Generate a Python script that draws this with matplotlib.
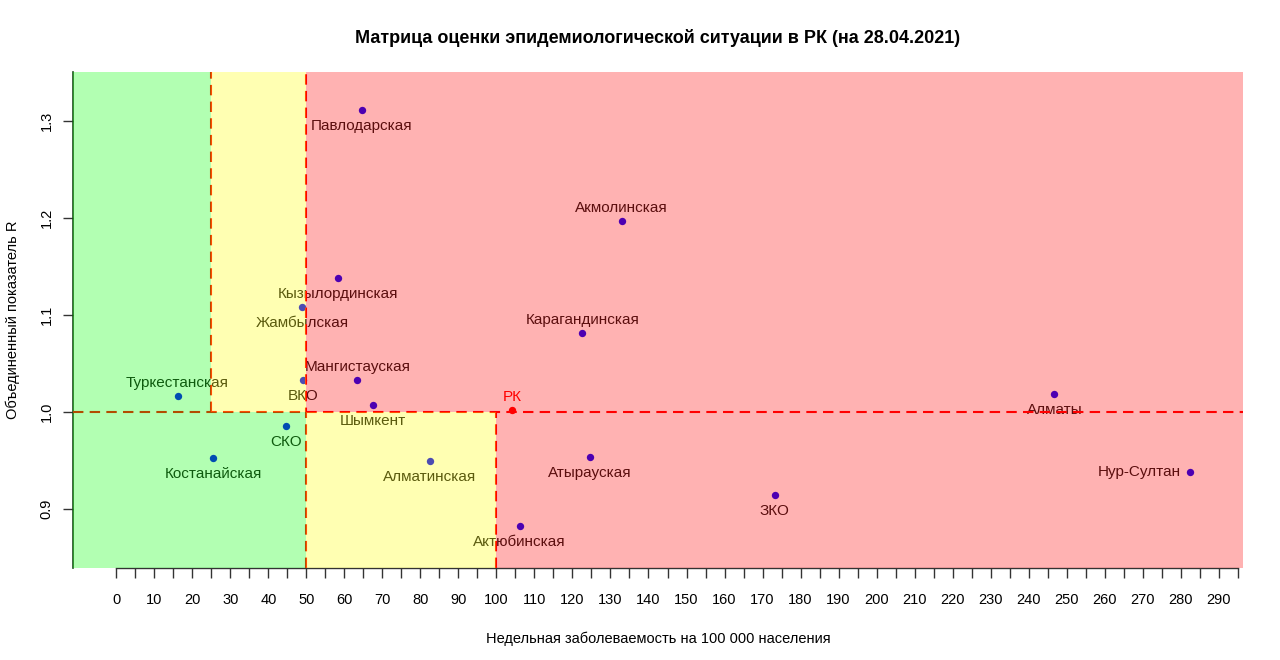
import matplotlib
matplotlib.use("Agg")
import matplotlib.pyplot as plt
from matplotlib.patches import Rectangle
import numpy as np

plt.rcParams['font.family'] = ['Liberation Sans', 'DejaVu Sans']

# regions: weekly incidence per 100k (x) and combined R (y)
regions = ["Павлодарская", "Акмолинская", "Кызылординская", "Жамбылская",
           "Карагандинская", "Мангистауская", "ВКО", "Туркестанская",
           "Шымкент", "Алматы", "СКО", "Костанайская", "Алматинская",
           "Атырауская", "Нур-Султан", "ЗКО", "Актюбинская"]
incidence = [64.5, 132.9, 58.2, 48.9, 122.6, 63.4, 49.2, 16.1,
             67.6, 246.8, 44.7, 25.5, 82.4, 124.5, 282.4, 173.2, 106.1]
r_value = [1.311, 1.197, 1.138, 1.108, 1.081, 1.033, 1.033, 1.016,
           1.007, 1.018, 0.985, 0.952, 0.949, 0.953, 0.938, 0.914, 0.882]

# republic total
rk_x = 104.2
rk_y = 1.002

# label placement: 1 below, 2 left, 3 above
label_pos = {"Акмолинская": 3, "Карагандинская": 3, "Мангистауская": 3,
             "Туркестанская": 3, "Нур-Султан": 2}

xlim = (-11.4, 296.4)
ylim = (0.839, 1.3505)

fig = plt.figure(figsize=(12.8, 6.6), dpi=100)
ax = fig.add_axes([73 / 1280, 1 - 568 / 660, 1170 / 1280, 496 / 660])
ax.set_xlim(*xlim)
ax.set_ylim(*ylim)

# points and labels (drawn first, the coloured zones go over them)
ax.scatter(incidence, r_value, s=28, color="blue", zorder=3, linewidths=0)
for name, x, y in zip(regions, incidence, r_value):
    pos = label_pos.get(name, 1)
    if pos == 1:
        ax.annotate(name, (x, y), xytext=(0, -11.3), textcoords="offset points",
                    ha="center", va="center", fontsize=11, color="#151515", zorder=3)
    elif pos == 3:
        ax.annotate(name, (x, y), xytext=(0, 9.6), textcoords="offset points",
                    ha="center", va="center", fontsize=11, color="#151515", zorder=3)
    else:
        ax.annotate(name, (x, y), xytext=(-6.5, 0), textcoords="offset points",
                    ha="right", va="center", fontsize=11, color="#151515", zorder=3)

ax.scatter([rk_x], [rk_y], s=28, color="red", zorder=3, linewidths=0)
ax.annotate("РК", (rk_x, rk_y), xytext=(0, 9.6), textcoords="offset points",
            ha="center", va="center", fontsize=11, color="red", zorder=3)

# threshold lines
dash = (0, (5, 3))
ax.plot([25, 25], [1.0, ylim[1]], color="red", lw=1.5, linestyle=dash, zorder=4)
ax.plot([50, 50], [ylim[0], ylim[1]], color="red", lw=1.5, linestyle=dash, zorder=4)
ax.plot([100, 100], [ylim[0], 1.0], color="red", lw=1.5, linestyle=dash, zorder=4)
ax.plot([xlim[0], xlim[1]], [1.0, 1.0], color="red", lw=1.5, linestyle=dash, zorder=4)

# translucent zones on top
zones = [
    (xlim[0], 1.0, 25 - xlim[0], ylim[1] - 1.0, (0, 1, 0)),
    (xlim[0], ylim[0], 50 - xlim[0], 1.0 - ylim[0], (0, 1, 0)),
    (25, 1.0, 25, ylim[1] - 1.0, (1, 1, 0)),
    (50, ylim[0], 50, 1.0 - ylim[0], (1, 1, 0)),
    (50, 1.0, xlim[1] - 50, ylim[1] - 1.0, (1, 0, 0)),
    (100, ylim[0], xlim[1] - 100, 1.0 - ylim[0], (1, 0, 0)),
]
for x0, y0, w, h, c in zones:
    ax.add_patch(Rectangle((x0, y0), w, h, facecolor=c, alpha=0.3,
                           edgecolor="none", zorder=10))

# axes in R style
for side in ["top", "right"]:
    ax.spines[side].set_visible(False)
ax.spines["left"].set_linewidth(1.2)
ax.spines["left"].set_color("#1c4a1c")
ax.spines["bottom"].set_bounds(0, 295)
ax.spines["bottom"].set_linewidth(1.0)
ax.spines["bottom"].set_color("#333333")

xt = np.arange(0, 296, 5)
ax.set_xticks(xt)
ax.set_xticklabels([str(v) if v % 10 == 0 else "" for v in xt])
ax.set_yticks([0.9, 1.0, 1.1, 1.2, 1.3])
ax.set_yticklabels(["0.9", "1.0", "1.1", "1.2", "1.3"], rotation=90, va="center")
ax.tick_params(axis="x", length=7, width=1, pad=11, labelsize=10.5, color="#333333")
ax.tick_params(axis="y", length=7, width=1, pad=7, labelsize=10.5, color="#333333")

ax.set_xlabel("Недельная заболеваемость на 100 000 населения", fontsize=10.5, labelpad=18)
ax.set_ylabel("Объединенный показатель R", fontsize=10.5, labelpad=14)
fig.text(658 / 1280, 1 - 38 / 660,
         "Матрица оценки эпидемиологической ситуации в РК (на 28.04.2021)",
         ha="center", va="center", fontsize=13, fontweight="bold")

fig.savefig("out.png", dpi=100)
